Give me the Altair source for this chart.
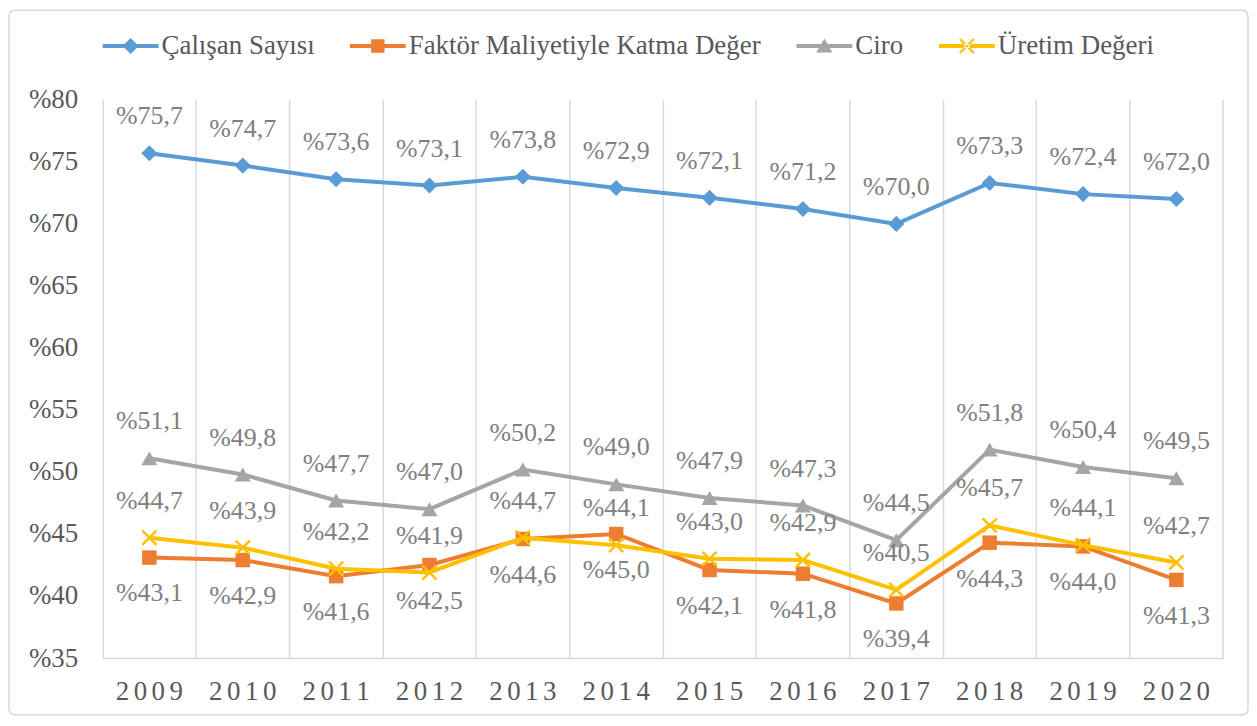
import altair as alt
import pandas as pd

# ---------------- data ----------------
years = [str(y) for y in range(2009, 2021)]
series_names = ["Çalışan Sayısı", "Faktör Maliyetiyle Katma Değer", "Ciro", "Üretim Değeri"]
calisan = [75.7, 74.7, 73.6, 73.1, 73.8, 72.9, 72.1, 71.2, 70.0, 73.3, 72.4, 72.0]
faktor = [43.1, 42.9, 41.6, 42.5, 44.6, 45.0, 42.1, 41.8, 39.4, 44.3, 44.0, 41.3]
ciro = [51.1, 49.8, 47.7, 47.0, 50.2, 49.0, 47.9, 47.3, 44.5, 51.8, 50.4, 49.5]
uretim = [44.7, 43.9, 42.2, 41.9, 44.7, 44.1, 43.0, 42.9, 40.5, 45.7, 44.1, 42.7]
y_ticks = [35, 40, 45, 50, 55, 60, 65, 70, 75, 80]

values_by_series = [calisan, faktor, ciro, uretim]
rows = []
for name, vals in zip(series_names, values_by_series):
    for yr, v in zip(years, vals):
        rows.append({"year": yr, "series": name, "value": v})
df = pd.DataFrame(rows)

# ---------------- style ----------------
colors = ["#5b9bd5", "#ed7d31", "#a5a5a5", "#ffc000"]
FONT = "Liberation Serif, DejaVu Serif, serif"
AXIS_TXT = "#595959"
LABEL_TXT = "#808080"
GRID = "#d9d9d9"
W, H = 1124, 560

cross_path = "M-1,-1L1,1M-1,1L1,-1"
marker_style = [
    dict(shape="diamond", size=260, filled=True),
    dict(shape="square", size=210, filled=True),
    dict(shape="triangle-up", size=260, filled=True),
    dict(shape=cross_path, size=200, filled=False, strokeWidth=2.5),
]
label_dy = [-37, 36, -37, -37]

bar = "M-1,-0.075H1V0.075H-1Z"
legend_paths = [
    bar + "M-0.29,0L0,-0.29L0.29,0L0,0.29Z",
    bar + "M-0.24,-0.24H0.24V0.24H-0.24Z",
    bar + "M-0.29,0.23L0,-0.27L0.29,0.23Z",
    bar + "M-0.278,-0.222L0.222,0.278L0.278,0.222L-0.222,-0.278Z"
          "M-0.222,0.278L0.278,-0.222L0.222,-0.278L-0.278,0.222Z",
]

x_enc = alt.X(
    "year:O",
    scale=alt.Scale(type="band", domain=years, paddingInner=0, paddingOuter=0),
    axis=alt.Axis(
        title=None, labelAngle=0, labelFont=FONT, labelFontSize=27,
        labelColor=AXIS_TXT, labelPadding=21, ticks=False,
        labelExpr="join(split(datum.label, ''), '\u2006')",
        domainColor=GRID, domainWidth=1.5, grid=True, gridColor=GRID,
        gridWidth=1.5, bandPosition=0,
    ),
)
y_enc = alt.Y(
    "value:Q",
    scale=alt.Scale(domain=[35, 80], nice=False, zero=False),
    axis=alt.Axis(
        title=None, values=y_ticks, labelExpr="'%' + datum.value",
        labelFont=FONT, labelFontSize=27, labelColor=AXIS_TXT,
        labelPadding=25, ticks=False, domain=False, grid=False,
    ),
)

base = alt.Chart(df).transform_calculate(
    label="'%' + replace(format(datum.value, '.1f'), '.', ',')"
)

layers = []

# frame around whole chart
frame = alt.Chart(alt.Data(values=[{}])).mark_rect(
    fill="transparent", stroke=GRID, strokeWidth=1.5, cornerRadius=6
).encode(
    x=alt.value(-94), x2=alt.value(1149), y=alt.value(-90), y2=alt.value(617)
)
layers.append(frame)

# right edge gridline
right_rule = alt.Chart(alt.Data(values=[{}])).mark_rule(
    color=GRID, strokeWidth=1.5
).encode(x=alt.value(W), y=alt.value(0), y2=alt.value(H))
layers.append(right_rule)

for name, col, ms in zip(series_names, colors, marker_style):
    sub = base.transform_filter(alt.datum.series == name)
    layers.append(sub.mark_line(color=col, strokeWidth=4).encode(x=x_enc, y=y_enc))
    layers.append(
        sub.mark_point(color=col, opacity=1, **ms).encode(x=x_enc, y=y_enc)
    )

for name, dy in zip(series_names, label_dy):
    sub = base.transform_filter(alt.datum.series == name)
    layers.append(
        sub.mark_text(
            dy=dy, font=FONT, fontSize=26, color=LABEL_TXT, baseline="middle"
        ).encode(x=x_enc, y=y_enc, text="label:N")
    )

leg = alt.Legend(
    orient="none", legendX=0, legendY=-82, direction="horizontal", columns=4,
    title=None, symbolSize=3136, symbolStrokeWidth=0, symbolOpacity=1,
    labelFont=FONT, labelFontSize=27, labelColor=AXIS_TXT, labelOffset=3,
    columnPadding=35, labelLimit=700, padding=0,
)
legend_layer = base.transform_filter("false").mark_point(filled=True, opacity=1).encode(
    color=alt.Color("series:N", scale=alt.Scale(domain=series_names, range=colors), legend=leg),
    shape=alt.Shape("series:N", scale=alt.Scale(domain=series_names, range=legend_paths), legend=leg),
)
layers.append(legend_layer)

chart = alt.layer(*layers).properties(
    width=W, height=H,
    padding={"left": 95, "top": 91, "right": 26, "bottom": 59},
    autosize=alt.AutoSizeParams(type="none"),
).configure_view(stroke=None)

chart.save("out.html", embed_options={"renderer": "svg", "actions": False})
